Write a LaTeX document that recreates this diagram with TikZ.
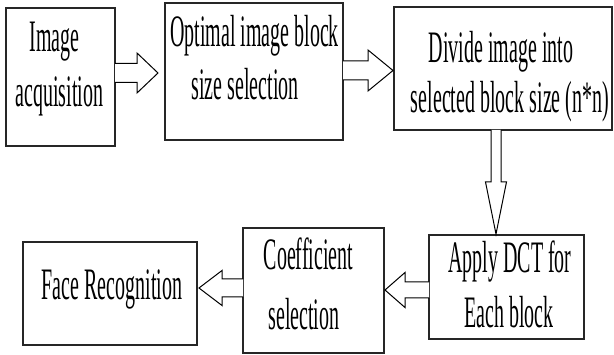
\documentclass[tikz,border=0pt]{standalone}
\usepackage{fontspec}
\setmainfont{Liberation Serif}
\usetikzlibrary{calc}
\newcommand{\sq}[1]{\scalebox{0.444}[1]{#1}}
% #1 start, #2 tip, #3 shaft half width, #4 head half width, #5 head length
\newcommand{\blockarrow}[5]{%
  \path ($(#2)!#5!(#1)$) coordinate (hb);
  \draw[barrow] ($(#1)!#3!90:(#2)$) -- ($(hb)!#3!-90:(#1)$) -- ($(hb)!#4!-90:(#1)$)
    -- (#2) -- ($(hb)!#4!90:(#1)$) -- ($(hb)!#3!90:(#1)$) -- ($(#1)!#3!-90:(#2)$);
}
\begin{document}
\begin{tikzpicture}[x=1pt,y=-1pt,
  box/.style={draw=black!85, line width=1.5pt, fill=white, inner sep=0pt, outer sep=0pt},
  lbl/.style={inner sep=0pt, anchor=base, font=\fontsize{45}{55}\selectfont},
  barrow/.style={draw=black, line width=1pt, fill=white, line join=miter}]
\useasboundingbox (0,0) rectangle (614,355);

% boxes
\node[box, minimum width=109pt, minimum height=138pt] (b1) at (60.5,77) {};
\node[box, minimum width=178pt, minimum height=137pt] (b2) at (254,71.5) {};
\node[box, minimum width=218pt, minimum height=123pt] (b3) at (503,68.5) {};
\node[box, minimum width=155pt, minimum height=104pt] (b4) at (506.5,287) {};
\node[box, minimum width=141pt, minimum height=125pt] (b5) at (313.5,290.5) {};
\node[box, minimum width=174pt, minimum height=103pt] (b6) at (110,293.5) {};

% labels
\node[lbl] (t1a) at (54.5,52) {\sq{Image}};
\node[lbl] (t1b) at (59.5,107) {\sq{acquisition}};
\node[lbl] (t2a) at (254.5,47) {\sq{Optimal image block}};
\node[lbl] (t2b) at (245,100) {\sq{size selection}};
\node[lbl] (t3a) at (501,63) {\sq{Divide image into}};
\node[lbl] (t3b) at (510,113) {\sq{selected block size (n*n)}};
\node[lbl] (t4a) at (510,273) {\sq{Apply DCT for}};
\node[lbl] (t4b) at (509,328) {\sq{Each block}};
\node[lbl] (t5a) at (308.5,270) {\sq{Coefficient}};
\node[lbl] (t5b) at (304,330) {\sq{selection}};
\node[lbl] (t6) at (112,300) {\sq{Face Recognition}};

% connectors
\coordinate (a1s) at ([yshift=4pt]b1.east);
\path (b2.west |- a1s) ++(-7,0) coordinate (a1e);
\blockarrow{a1s}{a1e}{9.5pt}{20pt}{21pt}

\coordinate (a2s) at ([yshift=1pt]b2.east);
\path (b3.west |- a2s) ++(-1,0) coordinate (a2e);
\blockarrow{a2s}{a2e}{9.5pt}{20.5pt}{25pt}

\coordinate (a3s) at ([xshift=-7pt]b3.south);
\path (a3s |- b4.north) ++(0,-1) coordinate (a3e);
\blockarrow{a3s}{a3e}{5pt}{10.5pt}{52pt}

\coordinate (a4s) at ([yshift=-3pt]b4.west);
\path (b5.east |- a4s) ++(1,0) coordinate (a4e);
\blockarrow{a4s}{a4e}{8pt}{17.5pt}{20pt}

\coordinate (a5s) at ([yshift=2.5pt]b5.west);
\path (b6.east |- a5s) ++(2,0) coordinate (a5e);
\blockarrow{a5s}{a5e}{9pt}{17.5pt}{23pt}
\end{tikzpicture}
\end{document}
